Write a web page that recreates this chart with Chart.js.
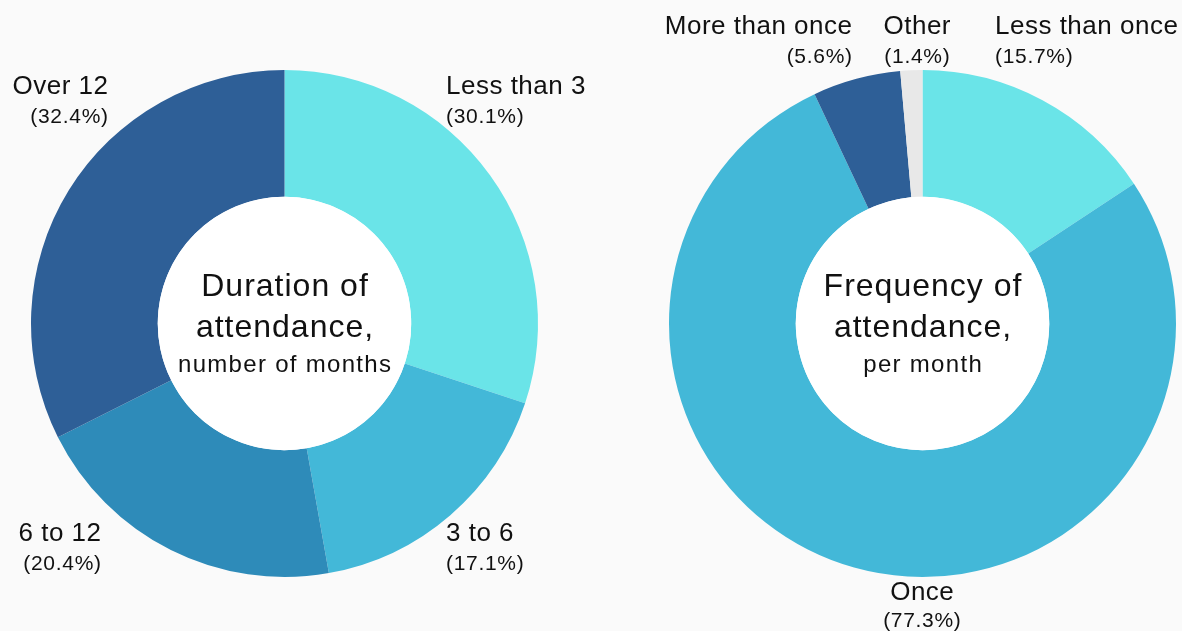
<!DOCTYPE html>
<html>
<head>
<meta charset="utf-8">
<title>Attendance</title>
<script src="https://cdn.jsdelivr.net/npm/chart.js@4.4.1/dist/chart.umd.min.js"></script>
<style>
  html, body { margin: 0; padding: 0; background: #fafafa; }
  body { width: 1182px; height: 631px; position: relative; overflow: hidden; }
  canvas { position: absolute; top: 0; }
  #duration { left: 0; }
  #frequency { left: 591px; }
</style>
</head>
<body>
<canvas id="duration" width="591" height="631"></canvas>
<canvas id="frequency" width="591" height="631"></canvas>
<script>
// Duration of attendance, number of months (share of respondents, %)
const durationLabels = ['Less than 3', '3 to 6', '6 to 12', 'Over 12'];
const durationShares = [30.1, 17.1, 20.4, 32.4];
const durationColors = ['#6ae4e8', '#43b8d8', '#2e8bb9', '#2e5f97'];

// Frequency of attendance, per month (share of respondents, %)
const frequencyLabels = ['Less than once', 'Once', 'More than once', 'Other'];
const frequencyShares = [15.7, 77.3, 5.6, 1.4];
const frequencyColors = ['#6ae4e8', '#43b8d8', '#2e5f97', '#e8e8e8'];

const FONT = '"Liberation Sans", Arial, Helvetica, sans-serif';
const NAME_SIZE = 26, NAME_SPACING = 0.5;
const PCT_SIZE = 21, PCT_SPACING = 0.7;

// Draws the white hole, the centre caption and the outside slice labels.
const doughnutText = {
  id: 'doughnutText',
  afterDatasetsDraw(chart, args, opts) {
    const ctx = chart.ctx;
    const arc = chart.getDatasetMeta(0).data[0];
    const cx = arc.x, cy = arc.y;
    ctx.save();
    ctx.fillStyle = '#ffffff';
    ctx.beginPath();
    ctx.arc(cx, cy, arc.innerRadius, 0, Math.PI * 2);
    ctx.fill();

    ctx.fillStyle = '#111111';
    ctx.textBaseline = 'middle';
    ctx.textAlign = 'center';
    opts.center.forEach(line => {
      ctx.font = line.size + 'px ' + FONT;
      ctx.letterSpacing = line.spacing + 'px';
      ctx.fillText(line.text, cx + line.spacing / 2, cy + line.dy);
    });

    const labels = chart.data.labels;
    const values = chart.data.datasets[0].data;
    opts.anchors.forEach((a, i) => {
      ctx.textAlign = a.align;
      const shift = a.align === 'right' ? 1 : (a.align === 'center' ? 0.5 : 0);
      ctx.font = NAME_SIZE + 'px ' + FONT;
      ctx.letterSpacing = NAME_SPACING + 'px';
      ctx.fillText(labels[i], a.x + shift * NAME_SPACING, a.y);
      ctx.font = PCT_SIZE + 'px ' + FONT;
      ctx.letterSpacing = PCT_SPACING + 'px';
      ctx.fillText('(' + values[i].toFixed(1) + '%)', a.x + shift * PCT_SPACING, a.y + (a.gap || 30));
    });
    ctx.restore();
  }
};

function makeDoughnut(id, labels, values, colors, padding, anchors, center) {
  return new Chart(document.getElementById(id), {
    type: 'doughnut',
    data: {
      labels: labels,
      datasets: [{
        data: values,
        backgroundColor: colors,
        borderWidth: 0,
        hoverOffset: 0
      }]
    },
    options: {
      responsive: false,
      animation: false,
      cutout: '50%',
      rotation: 0,
      layout: { padding: padding },
      events: [],
      plugins: {
        legend: { display: false },
        tooltip: { enabled: false },
        doughnutText: { anchors: anchors, center: center }
      }
    },
    plugins: [doughnutText]
  });
}

makeDoughnut('duration', durationLabels, durationShares, durationColors,
  { left: 31, right: 53, top: 70, bottom: 54 },
  [
    { x: 446, y: 87, align: 'left' },
    { x: 446, y: 534, align: 'left' },
    { x: 101, y: 534, align: 'right' },
    { x: 108, y: 87, align: 'right' }
  ],
  [
    { text: 'Duration of', size: 32, spacing: 1, dy: -36 },
    { text: 'attendance,', size: 32, spacing: 1, dy: 5 },
    { text: 'number of months', size: 24, spacing: 1.3, dy: 42 }
  ]);

makeDoughnut('frequency', frequencyLabels, frequencyShares, frequencyColors,
  { left: 78, right: 6, top: 70, bottom: 54 },
  [
    { x: 404, y: 27, align: 'left' },
    { x: 331, y: 593, align: 'center', gap: 28 },
    { x: 261, y: 27, align: 'right' },
    { x: 326, y: 27, align: 'center' }
  ],
  [
    { text: 'Frequency of', size: 32, spacing: 1, dy: -36 },
    { text: 'attendance,', size: 32, spacing: 1, dy: 5 },
    { text: 'per month', size: 24, spacing: 1.3, dy: 42 }
  ]);
</script>
</body>
</html>
